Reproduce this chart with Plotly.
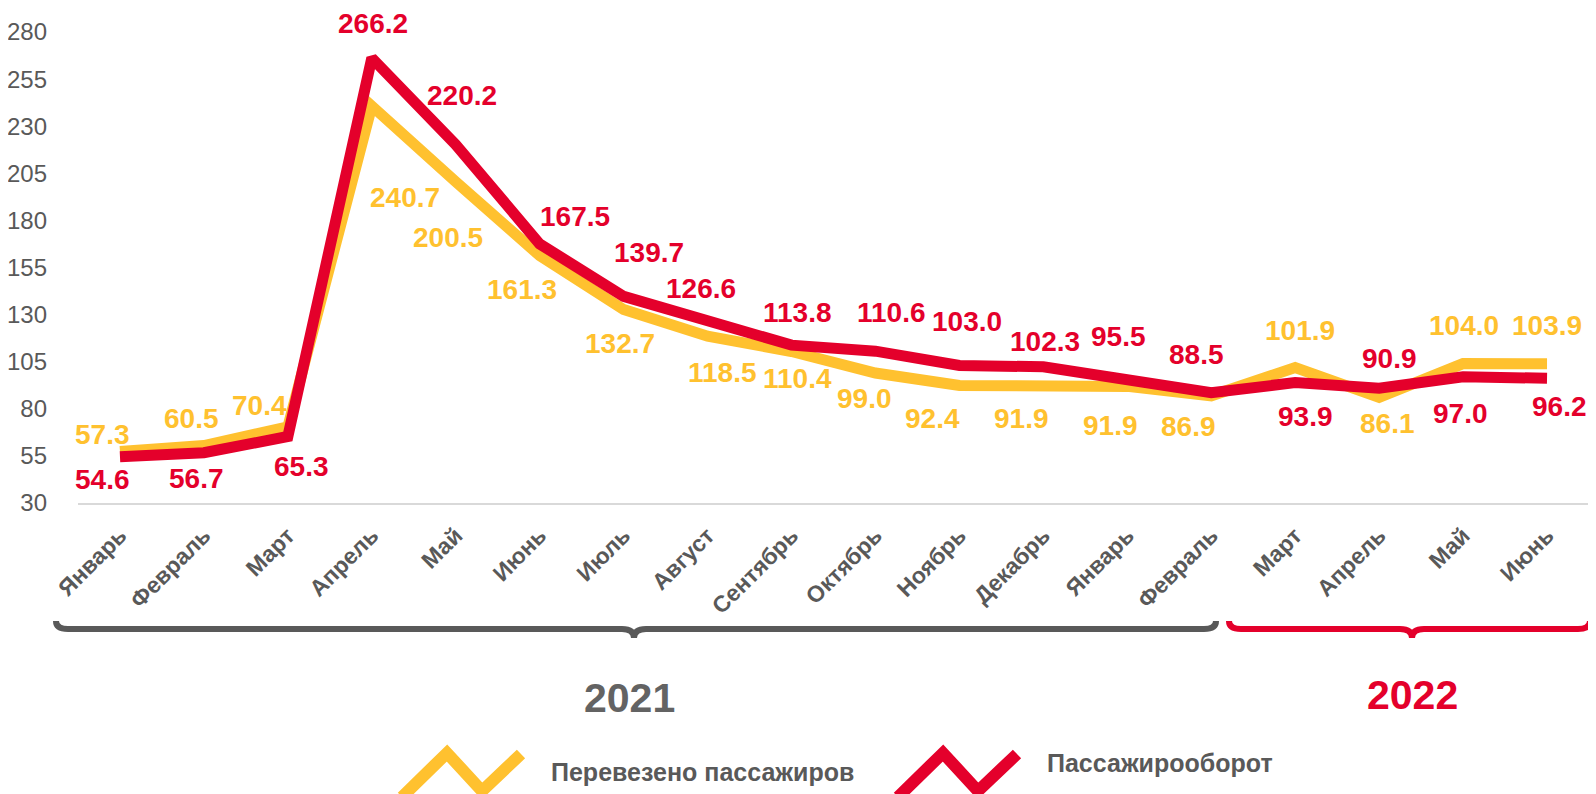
import plotly.graph_objects as go

# data
months = ["Январь", "Февраль", "Март", "Апрель", "Май", "Июнь", "Июль", "Август",
          "Сентябрь", "Октябрь", "Ноябрь", "Декабрь", "Январь", "Февраль",
          "Март", "Апрель", "Май", "Июнь"]
passengers = [57.3, 60.5, 70.4, 240.7, 200.5, 161.3, 132.7, 118.5, 110.4, 99.0,
              92.4, 91.9, 91.9, 86.9, 101.9, 86.1, 104.0, 103.9]
turnover = [54.6, 56.7, 65.3, 266.2, 220.2, 167.5, 139.7, 126.6, 113.8, 110.6,
            103.0, 102.3, 95.5, 88.5, 93.9, 90.9, 97.0, 96.2]
series_names = ["Перевезено пассажиров", "Пассажирооборот"]
years = ["2021", "2022"]
y_ticks = [30, 55, 80, 105, 130, 155, 180, 205, 230, 255, 280]

# label offsets in pixels (dx, dy; dy positive = down)
pass_off = [(-17, -17), (-12, -27), (-28, -21), (33, 91), (-8, 56), (-18, 34),
            (-4, 34), (15, 36), (6, 27), (-11, 25), (-27, 33), (-22, 32),
            (-17, 39), (-23, 31), (5, -37), (8, 26), (1, -38), (0, -38)]
turn_off = [(-17, 23), (-7, 26), (14, 30), (1, -35), (6, -49), (35, -27),
            (25, -44), (-7, -33), (6, -33), (16, -39), (8, -44), (2, -25),
            (-9, -43), (-15, -38), (10, 34), (10, -30), (-3, 37), (12, 28)]

YELLOW = "#FFC12F"
RED = "#E4002B"
GRAY = "#595959"
FONT = "Liberation Sans, Arial, sans-serif"

# page body has an 8px margin, so the figure is a bit smaller than the window
W, H = 1588, 786
L, R, T, B = 70, 7, 24, 291


def px(x):
    # screen x -> paper
    return (x - 8 - L) / (W - L - R)


def py(y):
    # screen y -> paper
    return (H - B - (y - 8)) / (H - T - B)


xs = list(range(len(months)))

fig = go.Figure()
fig.add_trace(go.Scatter(x=xs, y=passengers, mode="lines", name=series_names[0],
                         line=dict(color=YELLOW, width=11), showlegend=False))
fig.add_trace(go.Scatter(x=xs, y=turnover, mode="lines", name=series_names[1],
                         line=dict(color=RED, width=11), showlegend=False))

annotations = []
for vals, offs, col in [(passengers, pass_off, YELLOW), (turnover, turn_off, RED)]:
    for i, v in enumerate(vals):
        annotations.append(dict(x=i, y=v, xref="x", yref="y", text=f"<b>{v:.1f}</b>",
                                showarrow=False, xanchor="center", yanchor="middle",
                                xshift=offs[i][0], yshift=-offs[i][1],
                                font=dict(family=FONT, size=28, color=col)))

# year labels
annotations.append(dict(x=px(629), y=py(698), xref="paper", yref="paper", text="<b>" + years[0] + "</b>",
                        showarrow=False, xanchor="center", yanchor="middle",
                        font=dict(family=FONT, size=41, color="#636363")))
annotations.append(dict(x=px(1412), y=py(695), xref="paper", yref="paper", text="<b>" + years[1] + "</b>",
                        showarrow=False, xanchor="center", yanchor="middle",
                        font=dict(family=FONT, size=41, color=RED)))

# legend texts
annotations.append(dict(x=px(549), y=py(772), xref="paper", yref="paper", text="<b>" + series_names[0] + "</b>",
                        showarrow=False, xanchor="left", yanchor="middle",
                        font=dict(family=FONT, size=25, color=GRAY)))
annotations.append(dict(x=px(1045), y=py(763), xref="paper", yref="paper", text="<b>" + series_names[1] + "</b>",
                        showarrow=False, xanchor="left", yanchor="middle",
                        font=dict(family=FONT, size=25, color=GRAY)))


def bracket(x0, x1, tip, top=621, line=629, low=638):
    r = 12
    return (f"M {px(x0)},{py(top)} Q {px(x0)},{py(line)} {px(x0 + r)},{py(line)} "
            f"L {px(tip - r)},{py(line)} Q {px(tip)},{py(line)} {px(tip)},{py(low)} "
            f"Q {px(tip)},{py(line)} {px(tip + r)},{py(line)} "
            f"L {px(x1 - r)},{py(line)} Q {px(x1)},{py(line)} {px(x1)},{py(top)}")


def zigzag(x0):
    pts = [(x0 - 4, 797), (x0 + 41, 753), (x0 + 76, 791), (x0 + 115, 754)]
    return "M " + " L ".join(f"{px(a)},{py(b)}" for a, b in pts)


shapes = [
    dict(type="path", xref="paper", yref="paper", path=bracket(56, 1216, 634),
         line=dict(color=GRAY, width=6)),
    dict(type="path", xref="paper", yref="paper", path=bracket(1229, 1590, 1412),
         line=dict(color=RED, width=6)),
    dict(type="path", xref="paper", yref="paper", path=zigzag(406),
         line=dict(color=YELLOW, width=12)),
    dict(type="path", xref="paper", yref="paper", path=zigzag(902),
         line=dict(color=RED, width=12)),
]

fig.update_layout(
    width=W, height=H,
    margin=dict(l=L, r=R, t=T, b=B),
    paper_bgcolor="white", plot_bgcolor="white",
    annotations=annotations, shapes=shapes,
    font=dict(family=FONT, color=GRAY),
    showlegend=False,
)
fig.update_xaxes(range=[-0.5, len(months) - 0.5], tickvals=xs,
                 ticktext=["<b>" + m + "</b>" for m in months],
                 tickangle=-45, tickfont=dict(family=FONT, size=23, color=GRAY),
                 showgrid=False, zeroline=False, showline=True, automargin=False,
                 linecolor="#D9D9D9", linewidth=2, ticks="", ticklabelstandoff=8)
fig.update_yaxes(range=[30, 280], tickvals=y_ticks, showgrid=False, zeroline=False,
                 showline=False, ticks="", ticklabelstandoff=30, automargin=False,
                 tickfont=dict(family=FONT, size=24, color=GRAY))

fig.write_html("out.html")
